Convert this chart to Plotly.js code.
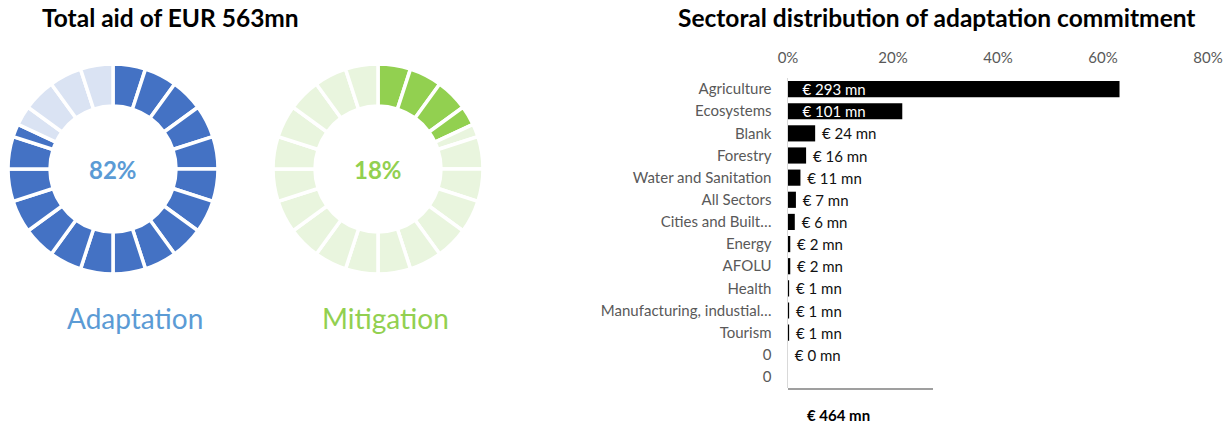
<!DOCTYPE html>
<html>
<head>
<meta charset="utf-8">
<script src="https://cdn.plot.ly/plotly-3.0.1.min.js"></script>
<style>html,body{margin:0;padding:0;background:#fff;}#chart{width:1232px;height:427px;}</style>
</head>
<body>
<div id="chart"></div>
<script>
// ---- Data ----
const totalAidLabel = "Total aid of EUR 563mn";
const adaptationShare = 82;   // %
const mitigationShare = 18;   // %
const donutSegments = 20;     // each ring is split into 20 equal segments

const sectors = ["Agriculture", "Ecosystems", "Blank", "Forestry", "Water and Sanitation",
  "All Sectors", "Cities and Built…", "Energy", "AFOLU", "Health",
  "Manufacturing, industial…", "Tourism", "0", "0"];
const amountsMn = [293, 101, 24, 16, 11, 7, 6, 2, 2, 1, 1, 1, 0, null];
const adaptationTotalMn = 464;
const xTicks = [0, 0.2, 0.4, 0.6, 0.8];

// ---- Helpers ----
const W = 1232, H = 427;
const px = x => x / W;
const py = y => 1 - y / H;
const FONT = "Lato, 'Open Sans', sans-serif";

function ringPieces(share, dark, light) {
  const step = 100 / donutSegments;
  const vals = [], cols = [];
  for (let i = 0; i < donutSegments; i++) {
    const filled = Math.max(0, Math.min(step, share - i * step));
    if (filled > 0) { vals.push(filled); cols.push(dark); }
    if (step - filled > 0) { vals.push(step - filled); cols.push(light); }
  }
  return {vals, cols};
}

const ad = ringPieces(adaptationShare, "#4472c4", "#dae3f3");
const mi = ringPieces(mitigationShare, "#92d050", "#e9f5de");

function donut(p, dom) {
  return {
    type: "pie", values: p.vals, sort: false, direction: "clockwise", rotation: 0,
    hole: 0.6, textinfo: "none", hoverinfo: "skip", showlegend: false,
    marker: {colors: p.cols, line: {color: "#ffffff", width: 3.5}},
    domain: dom
  };
}

const nb = "\u00a0";
const shares = amountsMn.map(a => a == null ? 0 : a / adaptationTotalMn);
const inside = shares.map(s => s > 0.1);
const barText = amountsMn.map((a, i) => a == null ? "" :
  (inside[i] ? nb + nb + nb : nb) + "€ " + a + " mn");

const bars = {
  type: "bar", orientation: "h",
  y: sectors.map((_, i) => i), x: shares,
  marker: {color: "#000000"},
  text: barText,
  textposition: inside.map(v => v ? "inside" : "outside"),
  insidetextanchor: "start",
  constraintext: "none",
  cliponaxis: false,
  insidetextfont: {color: "#ffffff", size: 15, family: FONT},
  outsidetextfont: {color: "#111111", size: 15, family: FONT},
  hoverinfo: "skip", showlegend: false,
  xaxis: "x", yaxis: "y"
};

const data = [
  donut(ad, {x: [px(8), px(218)], y: [py(274), py(64)]}),
  donut(mi, {x: [px(273), px(483)], y: [py(274), py(64)]}),
  bars
];

const layout = {
  width: W, height: H,
  margin: {l: 0, r: 0, t: 0, b: 0},
  paper_bgcolor: "#ffffff", plot_bgcolor: "#ffffff",
  showlegend: false,
  bargap: 0.27,
  font: {family: FONT},
  xaxis: {
    domain: [px(788), px(1208)], range: [0, 0.8], side: "top",
    tickvals: xTicks, tickformat: ".0%",
    showgrid: false, zeroline: false, showline: false, ticks: "",
    tickfont: {size: 15, color: "#595959", family: FONT},
    ticklabelstandoff: 11, fixedrange: true
  },
  yaxis: {
    domain: [py(388), py(78)], range: [sectors.length - 0.5, -0.5],
    tickvals: sectors.map((_, i) => i), ticktext: sectors,
    showgrid: false, zeroline: false, showline: true,
    linecolor: "#d9d9d9", linewidth: 1.5, ticks: "",
    tickfont: {size: 15, color: "#595959", family: FONT},
    ticklabelstandoff: 12, fixedrange: true
  },
  shapes: [
    {type: "line", xref: "paper", yref: "paper",
     x0: px(788), x1: px(933), y0: py(389), y1: py(389),
     line: {color: "#7f7f7f", width: 1.5}}
  ],
  annotations: [
    {text: "<b>" + totalAidLabel + "</b>", xref: "paper", yref: "paper",
     x: px(40), y: py(17), xanchor: "left", yanchor: "middle", showarrow: false,
     font: {size: 24.5, color: "#000000", family: FONT}},
    {text: "<b>Sectoral distribution of adaptation commitment</b>", xref: "paper", yref: "paper",
     x: px(676), y: py(17), xanchor: "left", yanchor: "middle", showarrow: false,
     font: {size: 24.5, color: "#000000", family: FONT}},
    {text: "<b>" + adaptationShare + "%</b>", xref: "paper", yref: "paper",
     x: px(113), y: py(169), xanchor: "center", yanchor: "middle", showarrow: false,
     font: {size: 24, color: "#5b9bd5", family: FONT}},
    {text: "<b>" + mitigationShare + "%</b>", xref: "paper", yref: "paper",
     x: px(378), y: py(169), xanchor: "center", yanchor: "middle", showarrow: false,
     font: {size: 24, color: "#92d050", family: FONT}},
    {text: "Adaptation", xref: "paper", yref: "paper",
     x: px(135), y: py(318), xanchor: "center", yanchor: "middle", showarrow: false,
     font: {size: 28, color: "#5b9bd5", family: FONT}},
    {text: "Mitigation", xref: "paper", yref: "paper",
     x: px(385), y: py(318), xanchor: "center", yanchor: "middle", showarrow: false,
     font: {size: 28, color: "#92d050", family: FONT}},
    {text: "<b>€ " + adaptationTotalMn + " mn</b>", xref: "paper", yref: "paper",
     x: px(838), y: py(415), xanchor: "center", yanchor: "middle", showarrow: false,
     font: {size: 15, color: "#000000", family: FONT}}
  ]
};

Plotly.newPlot("chart", data, layout, {staticPlot: true, displayModeBar: false});
</script>
</body>
</html>
